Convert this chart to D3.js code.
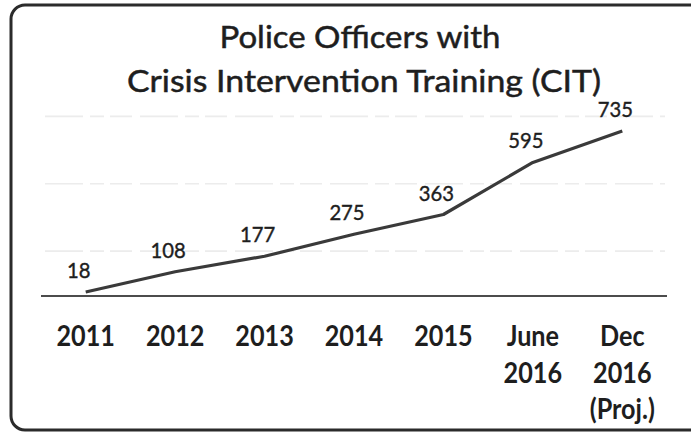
<!DOCTYPE html>
<html>
<head>
<meta charset="utf-8">
<script src="https://cdn.jsdelivr.net/npm/d3@7"></script>
<style>
  html, body { margin: 0; padding: 0; background: #fff; }
  svg { display: block; }
  text { font-family: Lato, "Open Sans", sans-serif; fill: #1e1e1e; }
</style>
</head>
<body>
<div id="chart"></div>
<script>
// --- data ---
const categories = [["2011"], ["2012"], ["2013"], ["2014"], ["2015"], ["June", "2016"], ["Dec", "2016", "(Proj.)"]];
const officers = [18, 108, 177, 275, 363, 595, 735];
const gridValues = [200, 500, 800];
const titleLines = ["Police Officers with", "Crisis Intervention Training (CIT)"];

(function () {
  const W = 691, H = 435;
  const svg = d3.select("#chart").append("svg").attr("width", W).attr("height", H);

  // rounded frame, runs off the right edge like the scan
  svg.append("rect")
    .attr("x", 11).attr("y", 5).attr("width", 720).attr("height", 425)
    .attr("rx", 14).attr("ry", 14)
    .attr("fill", "none").attr("stroke", "#2b2b2b").attr("stroke-width", 3);

  const keys = categories.map(c => c.join(" "));
  const x = d3.scaleBand().domain(keys).range([41, 667]).padding(0);
  const cx = k => x(k) + x.bandwidth() / 2;
  const y = d3.scaleLinear().domain([0, 800]).range([296, 116.4]);

  // Lato is wider than the Calibri in the scan: keep the height, squeeze the width
  const squeeze = (sel, k) => sel.each(function () {
    const w = this.getComputedTextLength();
    d3.select(this).attr("textLength", (w * k).toFixed(1)).attr("lengthAdjust", "spacingAndGlyphs");
  });

  // title (widths)
  const titleWidths = [281, 474];
  svg.append("g").selectAll("text").data(titleLines).join("text")
    .attr("x", (d, i) => i ? 364 : 360)
    .attr("y", (d, i) => 48 + i * 44)
    .attr("text-anchor", "middle")
    .style("font-size", "31px")
    .style("stroke", "#1e1e1e").style("stroke-width", 0.5)
    .attr("textLength", (d, i) => titleWidths[i])
    .attr("lengthAdjust", "spacingAndGlyphs")
    .text(d => d);

  // faint dashed gridlines
  svg.append("g").selectAll("line").data(gridValues).join("line")
    .attr("x1", 45).attr("x2", 665)
    .attr("y1", d => y(d)).attr("y2", d => y(d))
    .attr("stroke", "#ececec").attr("stroke-width", 1.6)
    .attr("stroke-dasharray", "38 7 14 6 22 8");

  // category axis line + multi-line labels
  svg.append("line").attr("x1", 41).attr("x2", 667).attr("y1", y(0)).attr("y2", y(0))
    .attr("stroke", "#111").attr("stroke-width", 1.5);

  const tickRows = categories.flatMap((c, i) => c.map((s, j) => ({ s, j, k: keys[i] })));
  svg.append("g").selectAll("text").data(tickRows).join("text")
    .attr("x", d => cx(d.k))
    .attr("y", d => 346 + d.j * 36.5)
    .attr("text-anchor", "middle")
    .style("font-size", "28px").style("font-weight", 700)
    .text(d => d.s)
    .call(squeeze, 0.9);

  // line
  const pts = officers.map((v, i) => [cx(keys[i]), y(v)]);
  svg.append("path").datum(pts)
    .attr("d", d3.line())
    .attr("fill", "none").attr("stroke", "#3a3a3a").attr("stroke-width", 3.2)
    .attr("stroke-linejoin", "round");

  // data labels
  svg.append("g").selectAll("text").data(officers).join("text")
    .attr("x", (d, i) => cx(keys[i]) - 7)
    .attr("y", d => y(d) - 14)
    .attr("text-anchor", "middle")
    .style("font-size", "22px")
    .style("stroke", "#1e1e1e").style("stroke-width", 0.4)
    .text(d => d)
    .call(squeeze, 0.92);
})();
</script>
</body>
</html>
